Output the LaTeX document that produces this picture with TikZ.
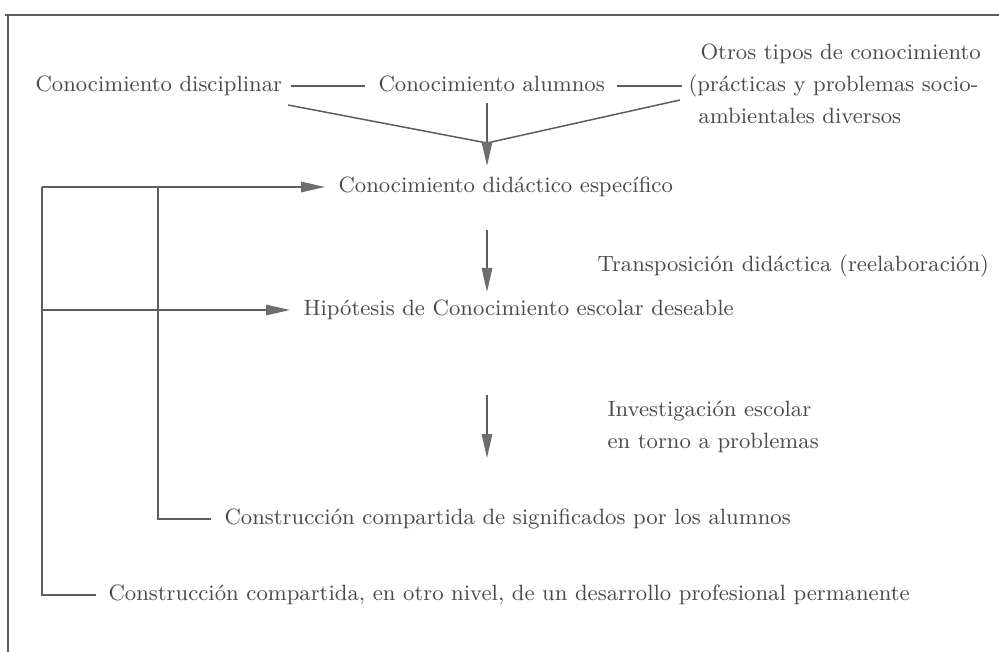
\documentclass[tikz,border=0pt]{standalone}
\usetikzlibrary{arrows.meta}
\definecolor{textgray}{HTML}{4A4A4A}
\definecolor{linegray}{HTML}{5E5E5E}
\definecolor{headgray}{HTML}{6E6E6E}
\begin{document}
\begin{tikzpicture}[x=0.4pt,y=-0.4pt,
  txt/.style={inner sep=0pt, text=textgray, anchor=west,
    font=\fontsize{8.85}{12.8}\selectfont, text height=1ex, text depth=0pt},
  ln/.style={draw=linegray, line width=0.6pt},
  arr/.style={ln, -{Triangle[length=9.6pt,width=4.2pt,color=headgray,fill=headgray]}}]
\useasboundingbox (0,0) rectangle (999,652);
% frame
\draw[ln] (5,15) -- (999,15);
\draw[ln] (8,15) -- (8,652);
% top row
\node[txt] (cd) at (35,86) {Conocimiento disciplinar};
\node[txt] (ca) at (378,86) {Conocimiento alumnos};
\node[txt] (ot1) at (700,54) {Otros tipos de conocimiento};
\node[txt] (ot2) at (688,86) {(prácticas y problemas socio-};
\node[txt] (ot3) at (698,118) {ambientales diversos};
\draw[ln] ([xshift=3.2pt]cd.east) -- ([xshift=-5.2pt]ca.west);
\draw[ln] ([xshift=4.8pt]ca.east) -- ([xshift=-2.4pt]ot2.west);
% convergence
\coordinate (apex) at (487,143);
\coordinate (lstart) at (288,105);
\coordinate (rstart) at (680,100);
\coordinate (mstart) at (487,103);
\draw[ln] (lstart) -- (apex) -- (rstart);
% main column
\node[txt] (cde) at (338,187) {Conocimiento didáctico específico};
\coordinate (mtip) at (487,166);
\draw[arr] (mstart) -- (mtip);
\node[txt] (tra) at (597,266) {Transposición didáctica (reelaboración)};
\node[txt] (hip) at (303,310) {Hipótesis de Conocimiento escolar deseable};
\node[txt] (inv1) at (607,411) {Investigación escolar};
\node[txt] (inv2) at (607,443) {en torno a problemas};
\node[txt] (sig) at (224,519) {Construcción compartida de significados por los alumnos};
\node[txt] (pro) at (108,595) {Construcción compartida, en otro nivel, de un desarrollo profesional permanente};
% down arrows
\coordinate (d1a) at (487,230);
\coordinate (d1b) at (487,292);
\coordinate (d2a) at (487,395);
\coordinate (d2b) at (487,458);
\draw[arr] (d1a) -- (d1b);
\draw[arr] (d2a) -- (d2b);
% feedback brackets
\coordinate (outer) at (42,187);
\coordinate (inner) at (158,187);
\coordinate (outerbot) at (42,595);
\coordinate (innerbot) at (158,519);
\coordinate (outerhip) at (42,310);
\draw[arr] (outer) -- ([xshift=-5.2pt]cde.west);
\draw[arr] (outerhip) -- ([xshift=-5.2pt]hip.west);
\draw[ln] (outer) -- (outerbot) -- ([xshift=-4.8pt]pro.west);
\draw[ln] (inner) -- (innerbot) -- ([xshift=-5.2pt]sig.west);
\end{tikzpicture}
\end{document}
